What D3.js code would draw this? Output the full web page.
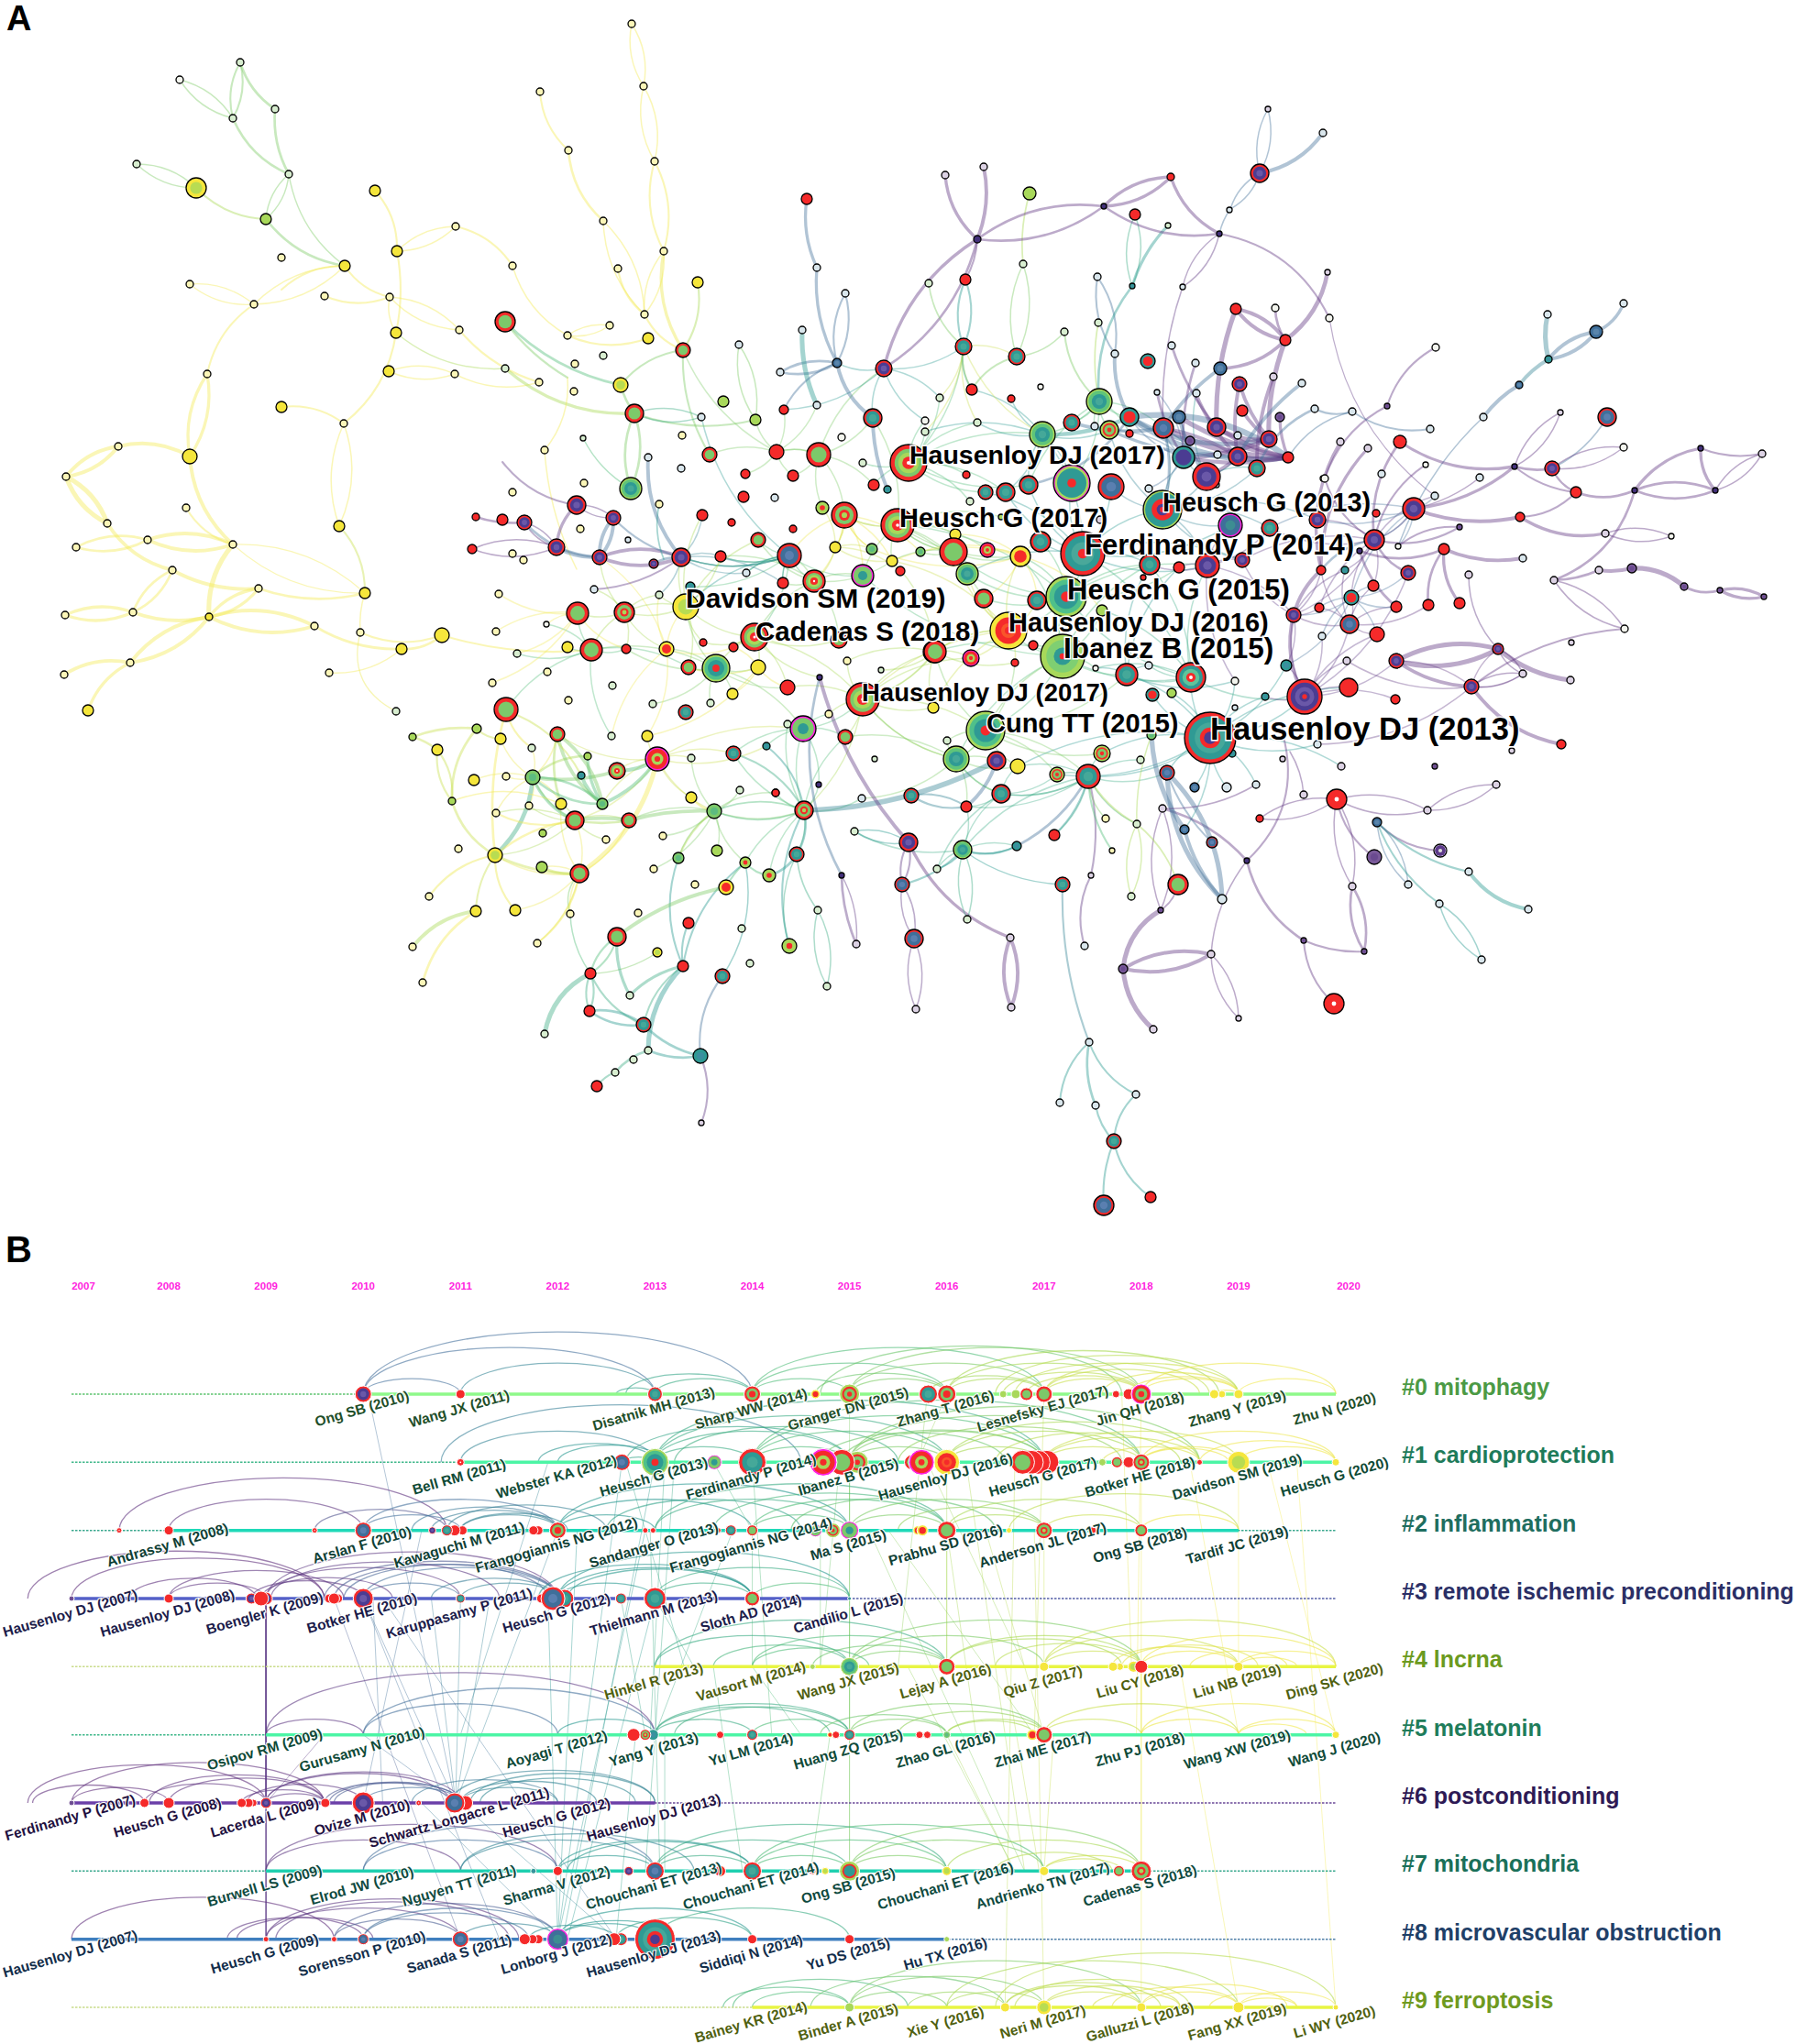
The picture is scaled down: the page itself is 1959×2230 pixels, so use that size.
<!DOCTYPE html>
<html>
<head>
<meta charset="utf-8">
<script src="https://cdnjs.cloudflare.com/ajax/libs/d3/7.8.5/d3.min.js"></script>
<style>
  html, body { margin: 0; background: #fff; }
  text { font-family: "Liberation Sans", Arial, sans-serif; font-weight: 700; }
</style>
</head>
<body>
<div id="chart"></div>
<script>
// ---- panel A: layout coordinates [x, y, citations radius, colour class]
const nodesWest = [
  [262,68,4,'pG'],[196,87,4,'pW'],[300,119,4,'pG'],[254,129,4,'pG'],[149,179,4,'pG'],[315,190,4,'pG'],[214,205,11,'Yg'],[290,239,6,'g'],
  [409,208,6,'Y'],[376,290,6,'Y'],[433,274,6,'Y'],[307,281,4,'pY'],[207,310,4,'pY'],[277,332,4,'pY'],[354,323,4,'pY'],[425,324,4,'pY'],
  [497,247,4,'pY'],[559,290,4,'pY'],[589,100,4,'pY'],[620,164,4,'pY'],[689,26,4,'pY'],[702,94,4,'pY'],[714,176,4,'pY'],[724,274,4,'pY'],
  [658,241,4,'pY'],[674,293,4,'pY'],[761,308,6,'Y'],[703,343,4,'pY'],[665,355,4,'pY'],[432,363,6,'Y'],[501,360,4,'pY'],[551,351,11,'rG'],
  [619,366,4,'pY'],[707,369,6,'Y'],[745,382,8,'rG'],[658,388,4,'pG'],[627,397,4,'pY'],[806,376,4,'pB'],[424,405,6,'Y'],[496,408,4,'pY'],
  [551,402,4,'pG'],[588,417,4,'pY'],[626,427,4,'pY'],[677,420,8,'Yg'],[692,451,10,'rG'],[307,444,6,'Y'],[375,462,4,'pY'],[226,408,4,'pY'],
  [744,475,4,'pY'],[636,478,3,'pG'],[594,491,4,'pY'],[637,527,4,'pY'],[688,533,12,'GT'],[559,537,4,'pY'],[207,498,8,'Y'],[129,487,4,'pY'],
  [72,520,4,'pY'],[117,571,4,'pY'],[203,554,4,'pY'],[161,589,4,'pY'],[83,597,4,'pY'],[254,594,4,'pY'],[370,574,6,'Y'],[188,622,4,'pY'],
  [282,642,4,'pY'],[145,668,4,'pY'],[71,671,4,'pY'],[228,673,4,'Y'],[142,723,4,'pY'],[70,736,4,'pY'],[96,775,6,'Y'],[398,647,6,'Y'],
  [393,690,4,'pY'],[482,693,8,'Y'],[438,708,6,'Y'],[343,683,4,'pY'],[359,734,4,'pY'],[537,745,4,'pY'],[597,733,4,'pY'],[432,776,4,'pG'],
  [548,567,6,'rR'],[519,564,4,'rR'],[515,599,5,'rR'],[544,648,4,'pY'],[541,689,4,'pY'],[596,681,3,'pW'],[559,604,4,'pY'],[571,611,4,'pY'],
  [564,713,4,'pG'],[619,706,6,'Y'],[620,764,4,'pY'],[520,795,5,'g'],[546,806,6,'Y'],[477,818,6,'Y'],[450,804,4,'g'],[580,816,4,'pG'],
  [517,851,6,'Y'],[493,874,4,'g'],[552,847,4,'pY'],[577,879,4,'pY'],[541,887,4,'pY'],[592,909,4,'g'],[500,926,4,'pY'],[540,933,8,'Yg'],
  [591,946,6,'g'],[468,978,4,'pY'],[519,994,6,'Y'],[562,993,6,'Y'],[622,997,4,'pY'],[586,1029,4,'pY'],[450,1033,4,'pY'],[461,1072,4,'pY']
];
const nodesCentre = [
  [629,551,10,'rP'],[572,570,8,'rP'],[669,565,8,'rP'],[633,577,4,'pY'],[766,562,6,'rR'],[798,570,4,'rR'],[865,577,4,'rR'],[827,589,8,'rG'],
  [685,589,3,'pB'],[607,597,9,'rP'],[654,608,8,'rP'],[743,608,10,'rP'],[786,607,6,'rR'],[713,615,5,'rP'],[861,606,13,'rB'],[814,625,4,'pB'],
  [854,636,6,'rR'],[888,634,12,'rGc'],[648,643,4,'pB'],[753,640,5,'T'],[719,649,4,'pG'],[748,662,14,'Yg'],[630,669,12,'rG'],[681,668,11,'rGr'],
  [823,695,15,'rGc'],[645,709,12,'rG'],[683,708,5,'rR'],[727,708,8,'Yr'],[767,701,4,'rR'],[800,706,5,'rR'],[827,728,8,'Y'],[781,729,15,'GTr'],
  [751,728,8,'rG'],[859,750,8,'rR'],[799,757,6,'Y'],[668,748,4,'pG'],[712,768,4,'pG'],[775,767,4,'pG'],[748,777,8,'rT'],[876,795,14,'mG'],
  [552,774,13,'rG'],[608,801,8,'rG'],[641,825,4,'g'],[673,841,9,'rGc'],[634,846,4,'T'],[581,848,8,'G'],[612,877,6,'Y'],[657,877,6,'G'],
  [627,895,10,'rG'],[686,895,8,'rG'],[632,953,10,'rG'],[661,916,4,'pY'],[717,828,13,'mR'],[706,803,6,'Y'],[667,803,4,'pG'],[754,827,4,'pG'],
  [754,870,6,'Y'],[779,885,8,'G'],[807,862,4,'pG'],[846,865,4,'rR'],[877,884,10,'rGr'],[800,822,8,'rT'],[836,814,4,'T'],[859,790,4,'pG'],
  [922,804,8,'rG'],[954,828,3,'pG'],[904,779,4,'pY'],[894,739,3,'D'],[924,721,4,'pY'],[961,731,3,'pG'],[941,763,18,'rGc'],[1018,772,6,'Y'],
  [1019,711,12,'rG'],[1059,718,9,'mR'],[1107,723,4,'rR'],[1127,704,5,'rR'],[1100,688,20,'YR'],[1075,797,21,'GTr'],[1033,808,4,'pG'],[1043,828,14,'GT'],
  [1087,830,10,'rP'],[1110,836,8,'Y'],[1153,845,8,'GR'],[723,912,4,'pY'],[713,948,4,'pY'],[740,936,6,'G'],[782,928,6,'g'],[813,941,6,'gr'],
  [839,955,7,'gr'],[869,932,8,'rT'],[758,965,4,'pY'],[792,968,8,'Yr'],[918,955,3,'D'],[984,965,8,'rB'],[696,996,4,'pY'],[751,1007,6,'rR'],
  [892,993,4,'pG'],[809,1013,4,'pG'],[673,1022,10,'rG'],[861,1032,8,'gr'],[934,1030,4,'pP'],[997,1024,10,'rB'],[717,1039,5,'Yg'],[745,1054,6,'rR'],
  [818,1051,4,'pG'],[644,1062,6,'rR'],[788,1065,8,'rT'],[687,1086,4,'pG'],[902,1076,4,'pG'],[999,1101,4,'pP'],[643,1103,6,'rR'],[702,1118,8,'rT'],
  [594,1128,4,'pG'],[707,1146,4,'pG'],[764,1152,8,'T'],[691,1156,4,'pG'],[671,1170,4,'pG'],[651,1185,6,'rR'],[765,1225,3,'pP'],[846,865,4,'rR'],
  [940,871,4,'pB'],[994,868,8,'rT'],[1054,880,6,'rR'],[1092,866,10,'rT'],[893,856,3,'D'],[932,907,4,'pG'],[991,919,10,'rP'],[1050,927,10,'GT'],
  [1109,923,5,'T'],[1022,948,4,'pG'],[1055,1003,4,'pG'],[1202,822,9,'GR'],[1187,847,13,'rT'],[1256,802,5,'G'],[1244,829,4,'pG'],[1273,843,8,'rB'],
  [1320,805,28,'H13'],[1344,822,4,'T'],[1206,893,4,'pY'],[1240,899,4,'pG'],[1150,911,6,'rR'],[1213,928,3,'pY'],[1190,955,3,'pP'],[1159,965,8,'rT'],
  [1285,965,11,'rG'],[1234,978,4,'pG'],[1183,1032,4,'pB'],[1102,1023,4,'pP'],[1103,1099,4,'pP'],[1268,882,4,'pP'],[1266,993,3,'P'],[1292,905,5,'B'],
  [1322,919,6,'rB'],[1333,981,5,'pB'],[1225,1057,5,'P'],[1321,1041,4,'pP'],[1258,1123,4,'pP'],[1351,1111,3,'pP'],[1188,1137,4,'pB'],[1156,1203,4,'pB'],
  [1195,1206,4,'pB'],[1239,1194,4,'pB'],[1215,1245,8,'rT'],[1255,1306,6,'rR'],[1204,1315,11,'rB']
];
const nodesNorth = [
  [880,217,6,'rR'],[891,292,4,'pB'],[922,320,4,'pB'],[875,360,4,'pB'],[851,406,4,'pB'],[913,396,5,'B'],[964,402,9,'rP'],[855,447,5,'rR'],
  [891,442,4,'pB'],[789,438,6,'g'],[824,458,6,'g'],[765,455,4,'pB'],[847,493,8,'rR'],[893,496,13,'rG'],[774,496,8,'rG'],[707,499,4,'pB'],
  [813,517,5,'rR'],[865,519,6,'rR'],[743,511,4,'pB'],[811,542,6,'rR'],[845,543,4,'pB'],[897,554,7,'gr'],[719,550,4,'pY'],[1073,182,4,'pP'],
  [1031,191,4,'pP'],[1123,211,7,'g'],[1277,193,4,'rR'],[1374,189,10,'rP'],[1204,225,3,'D'],[1238,234,6,'rR'],[1341,229,3,'pB'],[1274,246,3,'pG'],
  [1066,261,4,'D'],[1330,255,3,'D'],[1116,288,4,'pG'],[1013,309,4,'pG'],[1053,305,6,'rR'],[1197,302,4,'pB'],[1235,312,3,'T'],[1290,313,3,'pB'],
  [1448,297,3,'pP'],[1383,119,3,'pP'],[1443,145,4,'pB'],[1348,337,6,'rR'],[1391,336,4,'pW'],[1198,352,4,'pG'],[1161,362,4,'pG'],[1450,347,4,'pW'],
  [1402,371,6,'rR'],[1278,377,4,'pB'],[1051,378,9,'rT'],[1109,389,9,'rT'],[1216,386,4,'pB'],[1252,394,8,'Tr'],[1304,396,4,'pB'],[1331,402,7,'B'],
  [1389,411,4,'pP'],[1352,419,8,'rP'],[1420,418,4,'pB'],[1060,425,6,'rR'],[1103,435,4,'rR'],[1135,422,3,'pW'],[1262,428,3,'pB'],[1305,429,4,'pB'],
  [1025,434,4,'pG'],[1199,438,14,'GT'],[952,456,10,'rT'],[1434,446,4,'pB'],[1232,455,10,'Tr'],[1286,455,7,'B'],[1355,448,6,'rR'],[1396,455,5,'P'],
  [1009,459,4,'pW'],[1066,461,4,'pG'],[1169,461,9,'rT'],[1009,471,4,'pG'],[1194,465,4,'pB'],[1210,469,10,'GR'],[1232,473,4,'rR'],[1269,467,11,'rB'],
  [1327,466,10,'rP'],[1137,474,14,'GT'],[1298,481,5,'P'],[1350,475,4,'pB'],[1384,479,9,'rP'],[918,477,4,'pW'],[941,505,4,'pG'],[991,505,20,'rGc'],
  [1328,496,4,'pB'],[1350,498,10,'rP'],[1405,499,6,'rR'],[1291,499,12,'TP'],[1054,518,4,'rR'],[1371,511,9,'rT'],[1316,520,15,'rP'],[1443,522,3,'pW'],
  [953,529,6,'rR'],[968,534,4,'T'],[1075,537,8,'rT'],[1097,537,10,'rT'],[1122,529,10,'rT'],[1169,527,20,'mT'],[1212,531,14,'rB'],[1253,533,4,'pB'],
  [1327,529,3,'pB'],[1268,556,21,'GH'],[921,562,14,'rGr'],[1058,547,4,'pG'],[979,573,18,'rGc'],[1092,564,3,'g'],[1200,567,4,'pP'],[1342,573,13,'mB'],
  [1385,576,9,'rT'],[1437,567,9,'rP'],[911,597,6,'Y'],[951,599,6,'G'],[1042,583,6,'Y'],[1040,602,15,'rG'],[1004,602,5,'G'],[973,612,6,'Y'],
  [982,623,5,'rR'],[1055,626,12,'GT'],[1077,600,8,'mR'],[1113,607,11,'Yr'],[1135,591,11,'rT'],[1181,604,24,'F14'],[941,628,12,'mG'],[1073,653,10,'rG'],
  [1131,655,10,'rT'],[1163,651,22,'GTr'],[1202,666,6,'g'],[1159,716,24,'I15'],[915,698,9,'rG'],[1020,711,12,'rG']
];
const nodesEast = [
  [1229,736,12,'rT'],[1253,726,4,'pB'],[1195,729,3,'pW'],[1299,739,16,'rT2'],[1347,743,4,'pW'],[1403,726,6,'T'],[1423,760,19,'rP2'],[1471,750,10,'rR'],
  [1522,763,5,'rR'],[1523,721,8,'rP'],[1605,749,8,'rP'],[1634,708,6,'rP'],[1661,735,4,'pP'],[1469,721,4,'pP'],[1502,692,8,'rR'],[1472,681,10,'rB'],
  [1411,671,8,'rP'],[1439,663,5,'rR'],[1474,652,8,'Tr'],[1523,662,6,'rR'],[1558,660,6,'rR'],[1592,658,6,'rR'],[1442,694,4,'pB'],[1602,627,4,'pP'],
  [1661,609,4,'pB'],[1695,633,4,'pP'],[1525,596,3,'pW'],[1592,575,3,'P'],[1565,541,4,'pB'],[1614,521,4,'pB'],[1555,507,3,'pW'],[1507,517,4,'pB'],
  [1445,522,4,'pW'],[1513,443,3,'P'],[1475,449,4,'pB'],[1560,468,4,'pB'],[1618,455,4,'pB'],[1657,420,4,'B'],[1527,482,7,'rR'],[1492,489,4,'pP'],
  [1462,482,4,'pP'],[1652,509,3,'D'],[1693,511,8,'rP'],[1566,379,4,'pW'],[1688,343,4,'pB'],[1771,331,4,'pB'],[1741,362,7,'B'],[1689,392,4,'T'],
  [1702,450,3,'pP'],[1753,455,10,'rB'],[1771,488,4,'pW'],[1719,537,6,'rR'],[1783,535,3,'D'],[1855,489,3,'D'],[1871,535,3,'D'],[1922,495,4,'pP'],
  [1501,560,4,'rR'],[1542,555,12,'rP'],[1658,564,5,'rR'],[1751,582,4,'pP'],[1823,585,3,'pW'],[1499,589,11,'rP'],[1575,599,6,'rR'],[1483,601,3,'D'],
  [1441,622,5,'rR'],[1467,622,4,'T'],[1536,625,8,'rP'],[1744,622,4,'pP'],[1780,620,5,'P'],[1837,640,4,'P'],[1876,644,3,'P'],[1924,651,3,'P'],
  [1498,639,6,'rR'],[1772,686,4,'pW'],[1714,701,3,'pP'],[1713,742,4,'pP'],[1254,616,11,'rT'],[1286,619,6,'rR'],[1317,617,13,'rP'],[1355,611,8,'rP'],
  [1247,630,3,'rR'],[1437,812,4,'pB'],[1463,836,4,'pP'],[1565,836,3,'P'],[1649,819,3,'pP'],[1703,812,5,'rR'],[1399,828,3,'pP'],[1303,859,5,'B'],
  [1338,859,5,'pB'],[1370,856,4,'pB'],[1422,867,4,'pP'],[1458,872,11,'rRw'],[1632,856,4,'pP'],[1557,884,4,'pP'],[1374,893,4,'rR'],[1502,897,5,'B'],
  [1360,939,3,'D'],[1499,935,8,'P'],[1571,928,7,'Pr'],[1602,951,4,'pB'],[1475,967,4,'pP'],[1536,965,4,'pB'],[1570,986,4,'pB'],[1667,992,4,'pB'],
  [1422,1026,3,'P'],[1488,1038,3,'P'],[1616,1047,4,'pB'],[1455,1095,11,'rRw'],[1380,760,4,'T'],[1347,772,3,'pB'],[1278,756,5,'g'],[1257,758,7,'Tr']
];

// colour class of a link = year of co-citation; [year, width, bend, x,y, x,y, ...]. bend 0 = paired arcs
const linkChains = [
  [2015,2,.18,262,68,300,119],[2015,2,.15,300,119,315,190],[2015,1.5,0,262,68,254,129],[2015,1,0,196,87,254,129],[2015,2,.2,254,129,315,190],
  [2015,1,0,149,179,214,205],[2016,1.5,.2,214,205,290,239],[2015,1,0,315,190,290,239],[2015,1,.2,315,190,376,290],[2015,2,.2,290,239,376,290],
  [2019,1.5,.2,376,290,307,316],[2019,1,0,376,290,277,332],[2019,.8,0,207,310,277,332],[2019,1.5,.2,277,332,226,408],[2019,2.5,0,226,408,207,498],
  [2019,3,.2,207,498,129,487],[2019,3,0,129,487,72,520],[2019,4,0,72,520,117,571],[2019,3,.2,117,571,188,622],[2019,3,.2,207,498,254,594],
  [2019,4,.2,254,594,228,673],[2019,1.5,.2,203,554,254,594],[2019,3,0,161,589,254,594],[2019,2,0,83,597,161,589],[2019,3,.15,188,622,282,642],
  [2019,2,0,188,622,145,668],[2019,2.5,0,145,668,71,671],[2019,3,.15,145,668,228,673],[2019,2.5,0,228,673,282,642],[2019,3,0,228,673,343,683],
  [2019,3,0,228,673,142,723],[2019,3,.2,142,723,70,736],[2019,2.5,.2,142,723,96,775],[2019,.8,0,254,594,398,647],[2019,2,.15,282,642,398,647],
  [2017,1.5,.2,398,647,370,574],[2019,1,0,370,574,375,462],[2019,1.5,.2,375,462,307,444],[2019,1.5,.2,375,462,432,363],[2019,1.5,.1,432,363,433,274],
  [2019,1.5,.2,433,274,409,208],[2019,1,0,433,274,497,247],[2019,1.5,-.2,497,247,559,290],[2019,1,.2,559,290,619,366],[2016,1,.2,432,363,551,402],
  [2019,1,.2,425,324,432,363],[2019,1.5,.2,376,290,425,324],[2019,1.5,.2,354,323,425,324],[2019,1,0,425,324,501,360],[2019,1.5,.15,501,360,588,417],
  [2019,1,0,424,405,496,408],[2019,1,.2,496,408,588,417],[2016,2.5,.2,551,402,692,451],[2014,2,.15,551,351,677,420],[2015,1.5,.1,551,351,619,412],
  [2019,1.5,.2,589,100,620,164],[2019,2,.2,620,164,658,241],[2019,1,0,658,241,703,343],[2019,1.5,.2,674,293,703,343],[2019,1,0,689,26,702,94],
  [2019,1,0,702,94,714,176],[2019,1.5,0,714,176,724,274],[2019,1,0,724,274,703,343],[2018,2.5,.2,724,274,745,382],[2016,1.5,-.2,761,308,745,382],
  [2019,1.5,.2,703,343,745,382],[2019,1,0,665,355,619,366],[2019,1.5,.2,619,366,707,369],[2015,1.5,.2,745,382,677,420],[2015,1.5,.15,745,382,774,496],
  [2015,1.5,.15,692,451,824,458],[2013,1,0,692,451,765,455],[2015,2,.1,677,420,692,451],[2015,1,0,806,376,824,458],[2015,2,0,692,451,688,533],
  [2019,1,.2,594,491,619,412],[2019,1,.1,594,491,629,621],[2014,1,.15,636,478,688,533],[2019,1,.1,398,647,393,690],[2019,1.5,.2,393,690,482,693],
  [2019,2,.15,343,683,438,708],[2019,2,.2,438,708,482,693],[2019,1.5,.1,482,693,645,709],[2019,1,.2,359,734,438,708],[2018,.8,.4,393,690,432,776],
  [2008,2,.1,519,564,572,570],[2009,1.5,.2,548,504,629,551],[2009,2.5,.2,629,551,607,597],[2009,1,0,572,570,607,597],[2008,1,0,515,599,607,597],
  [2009,1,0,629,551,669,565],[2010,3,0,669,565,654,608],[2010,3,.15,607,597,654,608],[2009,3,0,654,608,743,608],[2010,2,.2,572,570,654,608],
  [2010,1.5,.15,669,565,743,608],[2010,3,.2,707,499,743,608],[2010,2,.15,743,608,713,615],[2012,1.2,.15,719,550,724,610],[2009,1.5,.15,648,643,743,608],
  [2010,2.5,.15,880,217,891,292],[2010,2.5,.15,891,292,913,396],[2010,1.5,0,922,320,913,396],[2010,2,0,851,406,913,396],[2012,4,.12,875,360,891,442],
  [2010,1.5,.2,913,396,855,447],[2010,3,.2,913,396,952,456],[2010,3,.1,952,456,968,534],[2008,2,.2,964,402,1066,261],[2008,2.5,-.2,964,402,1066,261],
  [2008,2.5,.2,1031,191,1066,261],[2008,3,-.15,1073,182,1066,261],[2008,1.5,.12,1053,305,1066,261],[2015,1.2,.2,1013,309,1051,378],[2012,1.5,0,1053,305,1051,378],
  [2013,1.5,.2,1051,378,1060,425],[2015,1,0,1116,288,1109,389],[2016,1.2,.1,1123,211,1116,288],[2015,1.5,.2,1109,389,1060,425],[2015,1,.2,1109,389,1161,362],
  [2015,1.5,.2,1161,362,1199,438],[2016,1.2,.1,1198,352,1199,438],[2010,1.5,0,1197,302,1216,386],[2010,3,.15,1216,386,1232,455],[2013,1,0,1238,234,1235,312],
  [2012,2.5,.12,1274,246,1235,312],[2012,2,.2,1235,312,1199,438],[2008,2,0,1066,261,1204,225],[2008,2.5,0,1204,225,1277,193],[2008,2.5,.2,1277,193,1330,255],
  [2008,2,.2,1204,225,1330,255],[2010,1,0,1374,189,1383,119],[2010,3,.2,1374,189,1443,145],[2010,1,0,1374,189,1342,228],[2010,1,.1,1342,228,1330,255],
  [2009,1,0,1330,255,1290,313],[2009,1,.1,1290,313,1269,467],[2008,1.5,-.25,1330,255,1450,347],[2009,.8,.2,1450,347,1565,541],
  [2008,3,0,1348,337,1402,371],[2008,2,.15,1391,336,1402,371],[2008,3,.2,1331,402,1402,371],[2008,3.5,.2,1402,371,1448,297],[2008,4,.1,1402,371,1384,479],
  [2008,4,.1,1348,337,1327,466],[2010,3,.1,1331,402,1269,467],[2009,5,.12,1269,467,1405,499],[2010,5,0,1232,455,1405,499],[2010,4,.2,1232,455,1384,479],
  [2009,4,.1,1286,455,1405,499],[2008,4,.1,1327,466,1405,499],[2008,4,.2,1327,466,1384,479],[2008,4,.1,1350,498,1405,499],[2009,3,.1,1350,498,1269,467],
  [2008,4,.1,1291,499,1384,479],[2009,3,.1,1291,499,1405,499],[2008,3,.1,1352,419,1350,498],[2008,3,.1,1355,448,1384,479],[2008,2.5,.1,1396,455,1405,499],
  [2008,3,.1,1389,411,1371,511],[2008,3,.1,1304,429,1350,498],[2010,3,.1,1420,418,1350,498],[2010,2.5,.12,1210,469,1350,498],[2010,3,.12,1169,461,1269,467],
  [2012,3.5,.12,1137,474,1232,455],[2010,2,.2,1122,529,1232,455],[2009,2,.1,1278,377,1327,466],[2009,2,.1,1304,396,1291,499],[2009,2,.1,1262,428,1291,499],
  [2010,2,.2,1434,446,1371,511],[2010,2,.15,1268,556,1269,467],[2010,3,.1,1286,455,1316,520],[2009,3,.1,1352,419,1384,479],[2009,3,.1,1316,520,1350,498],
  [2008,1.5,.2,1566,379,1513,443],[2008,1.5,.2,1513,443,1445,522],[2010,1.5,.2,1475,449,1560,468],[2010,1.5,.2,1434,446,1475,449],[2010,1,.2,1475,449,1405,499],
  [2010,1,.12,1618,455,1525,596],[2010,3,.1,1657,420,1618,455],[2011,3,.1,1689,392,1657,420],[2011,4,.12,1688,343,1689,392],[2010,3,0,1689,392,1741,362],
  [2010,2.5,.2,1741,362,1771,331],[2008,2.5,.2,1527,482,1652,509],[2008,2,.12,1652,509,1693,511],[2008,1,0,1652,509,1702,450],[2010,1,.15,1693,511,1753,455],
  [2008,1,0,1693,511,1771,488],[2008,1.5,.2,1693,511,1719,537],[2008,1.5,.15,1652,509,1719,537],[2008,2.5,.15,1542,555,1652,509],[2008,3,.15,1542,555,1658,564],
  [2008,1.5,.2,1658,564,1719,537],[2008,2.5,.2,1658,564,1751,582],[2008,1,0,1751,582,1823,585],[2008,1,.12,1542,555,1614,521],[2008,2,.2,1719,537,1783,535],
  [2008,2.5,-.2,1783,535,1855,489],[2008,2.5,.2,1855,489,1871,535],[2008,1.5,.15,1855,489,1922,495],[2008,1,0,1871,535,1922,495],[2008,2,0,1783,535,1871,535],
  [2008,2,-.25,1783,535,1695,633],[2008,2,.1,1695,633,1744,622],[2008,3,.1,1744,622,1780,620],[2008,4,-.2,1780,620,1837,640],[2008,2,.2,1837,640,1876,644],
  [2008,2.5,0,1876,644,1924,651],[2008,1,0,1695,633,1772,686],[2008,1.5,.15,1772,686,1605,749],[2008,4,.15,1634,708,1713,742],[2008,4,0,1523,721,1634,708],
  [2008,1,0,1634,708,1661,735],[2008,1,0,1605,749,1661,735],[2008,3,-.15,1605,749,1523,721],[2008,3,.2,1605,749,1703,812],[2009,1,.2,1602,627,1634,708],
  [2008,3,.15,1575,599,1661,609],[2008,2,.2,1575,599,1558,660],[2008,2.5,.2,1575,599,1592,658],[2008,2,.2,1483,601,1575,599],[2009,2,.15,1483,601,1523,662],
  [2009,1.5,.2,1499,589,1592,575],[2010,2,.2,1499,589,1441,622],[2009,3,.15,1441,622,1411,671],[2008,3,.2,1411,671,1423,760],[2009,2,.2,1499,589,1536,625],
  [2008,1.5,.2,1592,575,1525,596],[2008,1.5,.2,1445,522,1499,589],[2008,2.5,.2,1462,482,1441,622],[2008,2.5,.2,1492,489,1441,622],[2008,2,.2,1527,482,1499,589],
  [2008,1.5,.2,1555,507,1499,589],[2008,2,.15,1360,939,1268,882],[2008,1.5,.3,1360,939,1399,800],[2008,1,.15,1360,939,1321,1041],[2008,2,.2,1360,939,1422,1026],
  [2008,1.5,.2,1422,1026,1455,1095],[2008,1.5,.12,1422,1026,1488,1038],[2008,2,0,1488,1038,1475,967],[2008,1,0,1475,967,1458,872],[2008,1.5,.2,1458,872,1499,935],
  [2008,1,.12,1422,867,1407,820],[2008,1,0,1458,872,1557,884],[2008,1,0,1374,893,1458,872],[2008,1,0,1557,884,1632,856],[2008,1.5,.2,1502,897,1571,928],
  [2010,1,0,1502,897,1536,965],[2012,1.5,.15,1502,897,1570,986],[2012,1.5,.15,1502,897,1602,951],[2012,3,.2,1602,951,1667,992],[2012,1,0,1570,986,1616,1047],
  [2008,3,0,1225,1057,1321,1041],[2008,4,.2,1225,1057,1258,1123],[2008,4,-.25,1225,1057,1266,993],[2008,1,0,1266,993,1268,882],[2008,1.2,.2,1266,993,1285,965],
  [2016,1.2,.15,1285,965,1240,899],[2016,1,0,1240,899,1234,978],[2008,1,0,1321,1041,1351,1111],[2008,3,0,1102,1023,1103,1099],[2007,2.5,.2,991,919,1102,1023],
  [2011,1.5,.1,1159,965,1188,1137],[2009,1.5,.2,1190,955,1183,1032],[2009,1.5,.12,1190,955,1187,847],[2012,1.5,.2,1188,1137,1156,1203],[2012,2,.15,1188,1137,1195,1206],
  [2012,1.5,.2,1188,1137,1239,1194],[2012,1.5,.15,1195,1206,1215,1245],[2012,1.5,.2,1239,1194,1215,1245],[2012,1.5,.12,1215,1245,1204,1315],[2012,1.5,.2,1215,1245,1255,1306],
  [2012,1.5,.2,1051,928,1109,923],[2012,1.2,.15,1022,948,1051,928],[2012,1,.15,1051,928,1159,965],[2013,1,0,1051,928,1055,1003],[2010,2,.15,1109,923,1187,847],
  [2012,1.5,.15,1150,911,1187,847],[2015,1,.2,1187,847,1206,893],[2014,1.5,.15,1187,847,1213,928],[2010,1.5,.12,1273,843,1322,919],[2010,4,0,1273,843,1333,981],
  [2010,4,.15,1256,802,1292,905],[2010,3,.12,1292,905,1333,981],[2016,1.5,.15,1187,847,1240,899],[2016,1,.1,1256,802,1240,899],[2008,1,.15,1268,882,1370,856],
  [2011,4.5,.12,877,884,1087,830],[2010,3,.15,1054,880,1087,830],[2011,1.5,0,994,868,1054,880],[2012,1,0,932,907,991,919],[2009,1.5,0,984,965,991,919],
  [2009,1,0,984,965,997,1024],[2009,1,0,997,1024,999,1101],[2012,1.5,.15,984,965,1050,927],[2012,1.2,.2,1050,927,1109,923],[2009,2,.1,918,955,934,1030],[2009,1,-.15,918,955,934,1030],
  [2009,3,.12,894,739,991,919],[2010,2,.2,894,739,918,955],[2012,1.5,.2,877,884,836,814],[2013,1.5,.2,877,884,800,822],[2014,1.2,0,877,884,779,885],
  [2015,3,.08,779,885,686,895],[2015,3,.08,686,895,627,895],[2018,1.5,.2,754,870,779,885],[2016,1.5,.15,779,885,740,936],[2012,1.5,.2,740,936,745,1054],
  [2012,1.5,.2,813,941,745,1054],[2014,1.5,.2,813,941,839,955],[2012,2,.2,839,955,869,932],[2012,2,.2,869,932,877,884],[2013,1,.2,869,932,861,1032],
  [2014,1.5,.1,813,941,792,968],[2015,3,.12,792,968,673,1022],[2012,1.5,.15,751,1007,745,1054],[2012,4,.2,745,1054,707,1146],[2013,2.5,.15,745,1054,687,1086],
  [2013,1.5,.2,745,1054,702,1118],[2013,2,.15,707,1146,671,1170],[2013,1.5,.15,671,1170,651,1185],[2013,4,.25,644,1062,594,1128],[2013,1.5,.2,644,1062,702,1118],
  [2015,1,.15,644,1062,717,1039],[2012,2,0,643,1103,702,1118],[2013,1.5,0,643,1103,644,1062],[2014,1.5,0,673,1022,644,1062],[2013,2.5,.15,673,1022,687,1086],
  [2012,2,.15,702,1118,764,1152],[2012,2,.15,707,1146,764,1152],[2009,1.5,-.2,764,1152,765,1225],[2010,1.5,.2,788,1065,764,1152],[2012,1,.2,788,1065,813,941],
  [2013,1,0,892,993,902,1076],[2013,1.2,.15,869,932,892,993],[2012,1.5,.2,877,884,861,1032],
  [2013,3.5,.2,540,933,581,848],[2015,3,.12,581,848,673,841],[2014,2.5,.2,581,848,627,895],[2016,2,.15,608,801,612,877],[2014,3,.15,673,841,717,828],
  [2014,3,.15,657,877,717,828],[2016,2,.2,641,825,581,848],[2014,3,.15,634,846,657,877],[2014,2.5,.15,641,825,657,877],[2017,2,.2,520,795,493,874],[2017,2,.1,477,818,450,804],
  [2017,1.5,.2,520,795,546,806],[2017,2,.12,520,795,450,804],[2017,1.5,0,477,818,493,874],[2017,2,.2,493,874,540,933],[2019,2,.1,552,774,540,933],[2018,1.5,.2,552,774,580,816],
  [2017,2,.12,540,933,632,953],[2017,2,.15,591,946,632,953],[2017,1.5,.15,540,933,519,994],[2018,1.5,.2,540,933,562,993],[2016,3,.2,519,994,450,1033],[2019,2,.2,519,994,461,1072],
  [2018,1.5,.2,540,933,468,978],[2019,2,.15,627,895,540,933],[2019,4,.2,632,953,717,828],[2016,2,.1,627,895,686,895],[2015,1,.3,632,953,622,997],[2018,1.5,.2,586,1029,632,953],
  [2019,1.5,.2,541,887,627,895],[2019,1,.2,612,877,493,874],[2014,1,.15,622,997,644,1062],[2015,3,0,608,801,657,877],[2014,2,0,581,848,657,877],[2017,1.5,-.2,551,775,634,846]
];

// thin spokes around the most cited papers: [year, hub x, hub y, x,y, x,y, ...]
const hubLinks = [
  [2012,1320,805,1257,758,1278,756,1380,760,1423,760,1471,750,1403,726,1299,739,1229,736,1187,847,1273,843,1303,859,1338,859,1370,856,1202,822,1344,822,1437,812,1463,836,1347,743,1292,905,1110,836,1153,845],
  [2013,1299,739,1229,736,1254,616,1163,651,1181,604,1159,716,1202,666,1317,617,1423,760,1253,726,1195,729],
  [2014,1159,716,1100,688,1020,711,1075,797,1043,828,1163,651,1229,736,1254,616,1113,607,941,628,1202,666,1195,729,1127,704],
  [2014,1163,651,1073,653,1131,655,1055,626,1135,591,1040,602,1181,604,1254,616,1286,619,1317,617,1113,607,1100,688,979,573],
  [2012,1181,604,1097,537,1075,537,1122,529,1137,474,1169,527,1212,531,1268,556,1342,573,1135,591,1055,626,1254,616,1317,617,1355,611],
  [2011,1268,556,1212,531,1316,520,1291,499,1269,467,1385,576,1342,573,1437,567,1355,611,1317,617,1371,511,1210,469,1253,533],
  [2014,991,505,1054,518,1075,537,1097,537,1122,529,1137,474,1051,378,1066,461,1025,434,941,505,953,529,1009,459,1009,471,1058,547],
  [2015,979,573,1042,583,1040,602,1077,600,1113,607,1055,626,973,612,921,562,952,456,1073,653,941,628,1092,564],
  [2017,1100,688,1073,653,1020,711,1059,718,941,763,1040,602,973,612,1113,607,1131,655,1107,723,1018,772,1055,626],
  [2016,941,763,1020,711,1019,711,1075,797,1018,772,922,804,904,779,1059,718,1043,828,877,884,859,750,924,721],
  [2015,1075,797,1043,828,1110,836,1153,845,1202,822,1187,847,1229,736,1159,716,1107,723,1020,711,1033,808],
  [2018,921,562,911,597,951,599,941,628,861,606,888,634,979,573,973,612,951,599,1004,602],
  [2015,888,634,854,636,861,606,941,628,973,612,915,698,823,695,827,589,786,607],
  [2014,861,606,786,607,814,625,827,589,854,636,823,695,888,634,753,640,941,628,743,608],
  [2016,823,695,748,662,781,729,859,750,800,706,827,728,915,698,941,763,894,739,767,701],
  [2015,781,729,748,662,727,708,683,708,645,709,751,728,827,728,799,757,859,750,712,768,775,767,876,795],
  [2016,681,668,630,669,645,709,719,649,748,662,683,708,727,708,654,608,648,643],
  [2014,645,709,630,669,683,708,564,713,596,681,751,728,552,774,619,706,667,803],
  [2014,876,795,859,790,800,822,922,804,836,814,904,779,941,763,893,856,877,884],
  [2013,1187,847,1092,866,1153,845,1202,822,1273,843,1244,829,1110,836,1054,880,1050,927,1150,911,1240,899],
  [2014,1199,438,1169,461,1210,469,1137,474,1232,455,1269,467,1122,529,1169,527,1194,465,1232,473],
  [2012,1137,474,1066,461,1122,529,1097,537,1060,425,1103,435,1210,469,1169,527,1009,471],
  [2009,1423,760,1471,750,1403,726,1380,760,1442,694,1469,721,1523,721,1502,692,1472,681,1522,763,1536,625,1411,671],
  [2008,1472,681,1523,662,1558,660,1411,671,1439,663,1498,639,1502,692,1467,622,1474,652,1441,622],
  [2009,1499,589,1411,671,1439,663,1467,622,1474,652,1498,639,1437,567,1385,576,1542,555,1565,541,1355,611],
  [2010,1474,652,1411,671,1439,663,1403,726,1442,694,1502,692,1523,662,1498,639,1536,625],
  [2009,1317,617,1254,616,1286,619,1355,611,1385,576,1411,671,1347,743,1342,573],
  [2012,1229,736,1253,726,1195,729,1254,616,1347,743,1286,619],
  [2013,1092,866,1054,880,1153,845,1110,836,1187,847,1043,828,1022,948],
  [2019,727,708,748,662,800,706,719,649,667,803,706,803,654,608],
  [2019,630,669,544,648,683,708,564,713,596,681,537,745,541,689],
  [2018,827,728,799,757,859,750,751,728,800,706,706,803],
  [2012,861,606,765,455,854,636,786,607,814,625,743,608,748,662],
  [2011,743,608,786,607,766,562,719,649,814,625,854,636,861,606],
  [2017,717,828,754,827,754,870,706,803,673,841,800,822,836,814,876,795,779,885,627,895,657,877,608,801],
  [2018,632,953,562,993,591,946,540,933,622,997,586,1029,627,895,612,877,686,895],
  [2016,627,895,577,879,612,877,581,848,592,909,686,895,661,916,540,933,541,887],
  [2018,581,848,552,847,517,851,546,806,580,816,577,879,541,887,612,877,608,801],
  [2015,779,885,754,827,807,862,846,865,686,895,723,912,813,941,782,928,740,936,713,948,877,884],
  [2014,877,884,846,865,893,856,800,822,813,941,869,932,839,955,859,790,940,871,922,804],
  [2015,1043,828,1033,808,1075,797,1087,830,1110,836,1054,880,1092,866,940,871,922,804,941,763],
  [2016,1020,711,1059,718,924,721,961,731,1018,772,941,763,1107,723,1100,688,973,612],
  [2018,1113,607,1135,591,1042,583,1073,653,1077,600,1131,655,973,612,1202,666,1004,602,951,599],
  [2017,911,597,951,599,973,612,982,623,921,562,888,634,897,554],
  [2016,748,662,719,649,753,640,766,562,786,607,743,608,681,668,751,728,767,701,827,589],
  [2015,847,493,893,496,855,447,813,517,865,519,824,458,774,496,745,382,891,442],
  [2015,893,496,921,562,847,493,865,519,952,456,964,402,897,554,953,529],
  [2012,964,402,913,396,952,456,855,447,1051,378,1025,434,1009,459],
  [2017,1051,378,1109,389,1060,425,1025,434,1066,461,1009,471,1137,474],
  [2015,1040,602,1004,602,1042,583,979,573,973,612,1055,626,1113,607],
  [2012,1316,520,1371,511,1350,498,1291,499,1269,467,1305,429,1327,529],
  [2010,1291,499,1232,455,1210,469,1269,467,1286,455,1328,496,1262,428,1253,533],
  [2009,1411,671,1355,611,1441,622,1467,622,1439,663,1403,726],
  [2010,1542,555,1499,589,1565,541,1501,560,1385,576,1437,567,1474,652,1525,596],
  [2008,1605,749,1634,708,1523,721,1469,721,1661,735,1437,812],
  [2013,1050,927,1109,923,1054,880,1092,866,1022,948,932,907]
];

const panelALabels = ['Hausenloy DJ (2013)','Hausenloy DJ (2017)','Heusch G (2017)','Heusch G (2013)','Ferdinandy P (2014)','Heusch G (2015)','Hausenloy DJ (2016)','Ibanez B (2015)','Hausenloy DJ (2017)','Cung TT (2015)','Davidson SM (2019)','Cadenas S (2018)'];
const panelAAnchor = [[1320,795,34.5],[992,496,28.5],[981,565,29],[1268,548,29],[1183,594,31],[1164,643,31],[1100,679,29],[1160,707,31.5],[940,755,27.5],[1076,789,29],[748,652,30],[824,688,29.5]];

// ---- panel B
const years = d3.range(2007, 2021);
const clusterNames = ['#0 mitophagy','#1 cardioprotection','#2 inflammation','#3 remote ischemic preconditioning','#4 lncrna','#5 melatonin','#6 postconditioning','#7 mitochondria','#8 microvascular obstruction','#9 ferroptosis'];
const clusterSpan = [[2010,2020],[2011,2020],[2008,2019],[2007,2015],[2013,2020],[2009,2020],[2007,2013],[2009,2018],[2007,2016],[2014,2020]];
const rowLabels = [
  [['Ong SB',2010],['Wang JX',2011],['Disatnik MH',2013],['Sharp WW',2014],['Granger DN',2015],['Zhang T',2016],['Lesnefsky EJ',2017],['Jin QH',2018],['Zhang Y',2019],['Zhu N',2020]],
  [['Bell RM',2011],['Webster KA',2012],['Heusch G',2013],['Ferdinandy P',2014],['Ibanez B',2015],['Hausenloy DJ',2016],['Heusch G',2017],['Botker HE',2018],['Davidson SM',2019],['Heusch G',2020]],
  [['Andrassy M',2008],['Arslan F',2010],['Kawaguchi M',2011],['Frangogiannis NG',2012],['Sandanger O',2013],['Frangogiannis NG',2014],['Ma S',2015],['Prabhu SD',2016],['Anderson JL',2017],['Ong SB',2018],['Tardif JC',2019]],
  [['Hausenloy DJ',2007],['Hausenloy DJ',2008],['Boengler K',2009],['Botker HE',2010],['Karuppasamy P',2011],['Heusch G',2012],['Thielmann M',2013],['Sloth AD',2014],['Candilio L',2015]],
  [['Hinkel R',2013],['Vausort M',2014],['Wang JX',2015],['Lejay A',2016],['Qiu Z',2017],['Liu CY',2018],['Liu NB',2019],['Ding SK',2020]],
  [['Osipov RM',2009],['Gurusamy N',2010],['Aoyagi T',2012],['Yang Y',2013],['Yu LM',2014],['Huang ZQ',2015],['Zhao GL',2016],['Zhai ME',2017],['Zhu PJ',2018],['Wang XW',2019],['Wang J',2020]],
  [['Ferdinandy P',2007],['Heusch G',2008],['Lacerda L',2009],['Ovize M',2010],['Schwartz Longacre L',2011],['Heusch G',2012],['Hausenloy DJ',2013]],
  [['Burwell LS',2009],['Elrod JW',2010],['Nguyen TT',2011],['Sharma V',2012],['Chouchani ET',2013],['Chouchani ET',2014],['Ong SB',2015],['Chouchani ET',2016],['Andrienko TN',2017],['Cadenas S',2018]],
  [['Hausenloy DJ',2007],['Heusch G',2009],['Sorensson P',2010],['Sanada S',2011],['Lonborg J',2012],['Hausenloy DJ',2013],['Siddiqi N',2014],['Yu DS',2015],['Hu TX',2016]],
  [['Bainey KR',2014],['Binder A',2015],['Xie Y',2016],['Neri M',2017],['Galluzzi L',2018],['Fang XX',2019],['Li WY',2020]]
];
// timeline nodes per cluster: [year position, radius, colour class]
const rowNodes = [
  [[2010,9,'rP'],[2011,5,'rR'],[2013,8,'rT'],[2014,9,'rRg'],[2014.65,5,'Yr'],[2015,11,'GR'],[2015.81,10,'rT'],[2016,10,'rRg'],[2016.58,4,'g'],[2016.71,5,'g'],[2016.82,7,'rG'],[2017,9,'rG'],[2017.74,4,'rR'],[2017.87,6,'rR'],[2018,11,'mRg'],[2018.75,5,'Y'],[2018.83,4,'Y'],[2019,5,'Y']],
  [[2011,4,'rRw'],[2012.66,9,'rB'],[2013,15,'GTr'],[2013.61,8,'mG'],[2014,15,'rT'],[2014.73,15,'mR'],[2014.92,14,'rG'],[2015.08,12,'GR'],[2015.64,8,'rG'],[2015.74,14,'mR'],[2016,14,'YR'],[2016.78,13,'rG'],[2016.87,13,'rR'],[2016.94,13,'rR'],[2017.03,13,'rR'],[2017.6,4,'g'],[2017.75,6,'rG'],[2017.87,6,'rR'],[2018,9,'rGr'],[2018.6,3,'rR'],[2019,12,'Yg'],[2020,4,'Y']],
  [[2007.49,3,'rRw'],[2008,5,'rR'],[2009.5,3,'rRw'],[2010,9,'rB'],[2010.71,4,'rP'],[2010.86,6,'rT'],[2010.94,6,'rR'],[2011.02,5,'rR'],[2011.75,5,'rR'],[2011.8,5,'rR'],[2012,9,'rRg'],[2012.9,3,'rR'],[2012.98,3,'rR'],[2013.65,3,'rR'],[2013.78,6,'rT'],[2014,6,'rG'],[2014.65,7,'mG'],[2014.83,8,'GR'],[2015,10,'mG'],[2015.7,5,'Yr'],[2015.75,6,'Yr'],[2016,10,'rG'],[2016.64,3,'Y'],[2017,9,'rGr'],[2017.5,4,'rR'],[2018,7,'rG']],
  [[2007,3,'P'],[2008,5,'rR'],[2008.85,6,'rP'],[2008.95,8,'rR'],[2009,7,'rP'],[2009.65,5,'rR'],[2009.7,6,'rR'],[2009.74,5,'rR'],[2010,11,'rP'],[2011,5,'rT'],[2011.83,5,'rR'],[2011.95,13,'rB'],[2012.07,10,'rT'],[2012.65,6,'rT'],[2013,12,'rT'],[2014,8,'rG'],[2015,2,'T']],
  [[2014.62,3,'g'],[2015,10,'GT'],[2016,9,'rG'],[2017,5,'Y'],[2017.71,5,'Y'],[2017.78,4,'Y'],[2017.92,6,'Yg'],[2018,7,'rR'],[2019,5,'Y']],
  [[2012.78,7,'rR'],[2012.9,6,'rGr'],[2012.98,6,'T'],[2013.67,4,'rR'],[2014,6,'rT'],[2014.8,3,'Yr'],[2014.86,4,'rR'],[2015,6,'rT'],[2015.72,4,'rR'],[2015.8,4,'rR'],[2016,4,'G'],[2016.88,6,'Yr'],[2017,9,'rG'],[2020,4,'Y']],
  [[2007,3,'P'],[2007.75,5,'rR'],[2008,6,'rR'],[2008.75,5,'rR'],[2008.82,5,'rR'],[2008.87,4,'rR'],[2009,6,'rP'],[2009.47,2,'rR'],[2009.61,5,'rR'],[2010,12,'rP'],[2010.57,3,'rRw'],[2010.94,11,'rB'],[2011.05,8,'rR']],
  [[2011.75,3,'T'],[2012,5,'rR'],[2012.73,5,'rP'],[2013,10,'rB'],[2013.67,6,'rR'],[2014,10,'rT'],[2014.62,4,'rR'],[2014.75,4,'Yg'],[2015,11,'GRT'],[2016,5,'Yg'],[2017,5,'Y'],[2017.77,6,'rG'],[2018,11,'rGr']],
  [[2009,3,'rR'],[2009.7,3,'rR'],[2010,6,'rB'],[2011,9,'rB'],[2011.66,6,'rR'],[2011.74,5,'rR'],[2011.8,5,'rR'],[2012,12,'mB'],[2012.58,7,'rR'],[2012.65,7,'rT'],[2013,22,'H13'],[2014,5,'rR'],[2015,5,'rR'],[2016,3,'g']],
  [[2015,5,'g'],[2016.6,5,'Y'],[2017,8,'Yg'],[2018,5,'Y'],[2019,6,'Y'],[2020,3,'Y']]
];
// arcs along a cluster line, flat [from year, to year, ...]
const rowArcs = [
  [2010,2014,2010,2013,2010,2011,2011,2013,2010,2010.1,2012.6,2013,2013,2014,2012.7,2014,2014,2015,2014,2016,2014,2017,2014.65,2016,2015,2016,2015,2017,2015,2018,2014.7,2017.8,2015.81,2017,2016,2017,2016,2018,2016,2018.8,2016.58,2018,2016.82,2018,2017,2018,2017,2019,2017,2018.6,2017.87,2019,2018,2019,2018,2020,2018.75,2019,2019,2020,2016.7,2018.7,2016.5,2019,2017.6,2019],
  [2010.8,2014.5,2011,2013,2011.8,2013,2012,2013.1,2012.66,2013,2013,2014,2013,2015,2013,2016,2013,2017,2012.7,2015,2013.2,2015.5,2014,2015,2014,2016,2014,2017,2014,2018,2014.7,2016.6,2014.92,2017,2015,2016,2015,2017,2015,2018,2015,2018.6,2015.5,2017.8,2016,2017,2016,2018,2016,2018.6,2016.5,2018.4,2017,2018,2017,2018.6,2017,2019,2018,2019,2018,2020,2019,2020,2018.6,2020,2017.6,2018.6,2018,2018.9],
  [2007.49,2010.86,2008,2010,2009.5,2010.86,2010,2011,2010,2012,2010.5,2012,2011,2012,2011,2012.1,2010.7,2012,2010.86,2012.5,2012,2013,2012,2014,2012,2015,2012.5,2014.5,2013,2015,2013,2016,2013.6,2016,2014,2016,2014,2015,2014.4,2016.5,2015,2016,2015,2017,2015.5,2017,2016.64,2019,2018,2019,2016,2017,2017,2018,2016,2018],
  [2006.55,2009.6,2007,2009.6,2007.6,2008.9,2008,2009,2008,2009.8,2008.85,2010,2009,2011,2009,2012,2009.6,2012,2009.7,2011.9,2009.8,2012,2010,2011,2010,2012,2010.7,2012,2011,2012,2011.8,2014,2012,2013,2012,2014,2012,2015,2012.1,2014,2013,2014,2013,2015,2014,2015,2009.05,2011.4,2008.95,2010.3],
  [2013,2015,2013,2016,2013.6,2015,2014,2016,2014.62,2016,2015,2016,2015,2017,2015,2018,2016,2018,2016,2017.8,2016.5,2018,2017,2018,2017,2019,2017,2020,2017.7,2019,2018,2019,2018,2020,2019,2020,2018.5,2019.5,2019,2019.6,2017.8,2019.2,2014,2015.2],
  [2009,2013,2009,2010,2010,2012,2010,2013,2012,2013,2013,2015,2013,2014,2013,2014.8,2013.2,2015,2014,2015,2014.7,2016,2015,2016,2015,2017,2015.5,2017,2016,2017,2017,2018,2017,2019,2018,2019,2018,2020,2019,2019.7,2019,2020,2016,2016.9],
  [2006.55,2009,2007,2009.6,2006.6,2007.75,2007,2008,2007.75,2009,2007.8,2009.6,2008,2009.6,2008.8,2010,2009,2011,2009,2010.9,2009.6,2010.9,2009.7,2011,2009.65,2011,2010,2011,2010.5,2012,2010.9,2013,2011,2012.4,2011,2012,2011.1,2013,2011.2,2012.8,2009,2009.6,2008.75,2009.6],
  [2009,2011,2009,2012,2010,2012,2010,2013,2011,2013,2011,2013.4,2012,2013,2012,2014,2012.1,2014,2013,2014,2013,2015,2013,2016,2014,2015,2014,2016,2014,2017,2015,2016,2015,2017,2015,2018,2016,2018,2016.5,2017.7,2017,2017.8,2017,2018],
  [2007,2009.7,2008.6,2010,2008.7,2010.1,2009,2011,2009,2011.6,2009.7,2011,2009.7,2012,2010,2011.7,2010,2012,2011,2012,2011.7,2012.6,2012,2013,2012,2014,2012,2013.2,2012.6,2014,2013,2015,2009.1,2011.5],
  [2013.7,2015,2013.8,2015.6,2014,2015,2014.6,2016.6,2015,2016,2015,2017,2015.6,2016.6,2016,2017,2015,2018,2016,2019,2016.5,2020,2016.6,2018,2016.7,2018.5,2017,2018.4,2017,2018,2017.5,2018.4,2018,2019,2018,2019.5,2018.7,2019.6,2019,2019.6,2019,2020,2017.7,2019,2016.6,2018.2]
];
// lines between clusters: [row, year, row, year]
const crossLinks = [
  [3,2009,8,2009],[3,2009,6,2009],[0,2010.05,6,2010.95],[2,2012,6,2010.95],[3,2010,6,2010.95],[3,2010.7,6,2010.95],[3,2011,6,2010.95],[3,2011.3,6,2010.95],[5,2010,6,2010.95],[5,2009.6,6,2009],
  [2,2010.6,6,2010],[3,2010.1,6,2010.2],[1,2011.9,5,2011],[3,2011.9,8,2012],[2,2012.2,8,2012],[1,2012.66,8,2012],[2,2012.9,8,2012],[1,2013,8,2012.05],[3,2013,8,2012.1],[2,2012.95,7,2013.05],
  [3,2009.7,8,2011],[3,2010,8,2011.4],[3,2010.2,8,2012.6],[6,2010.6,8,2012],[6,2011,8,2012.6],[1,2012.7,4,2013.3],[1,2013.1,5,2012.95],[2,2013.8,5,2013],[2,2014,4,2014],[1,2014,5,2014.2],
  [1,2013.2,7,2012.9],[3,2012.65,5,2012.9],[5,2012.8,8,2012.6],[5,2013.1,7,2013.1],[1,2013.6,2,2014],[3,2013,4,2013.4],[4,2013.6,7,2013.9],[4,2014,5,2014.5],
  [2,2015,5,2015],[3,2015,5,2015],[4,2015,7,2015],[1,2015,4,2015],[1,2015,2,2015],[0,2015,2,2015],[0,2016,1,2015.7],[0,2015.8,4,2015.5],[1,2014.9,4,2014.7],[2,2014.7,4,2014.7],[5,2014.8,7,2014.6],[5,2015,7,2015],
  [4,2016,1,2016],[2,2016,4,2016],[2,2016,5,2016.3],[1,2016.2,7,2016.8],[1,2015.8,4,2016.8],[2,2015.4,5,2016.9],[2,2015.2,7,2016.8],[5,2016,7,2016.7],[4,2015.6,7,2016.7],
  [5,2017,2,2016.4],[4,2017,2,2017],[5,2016.9,0,2017],[9,2016.6,1,2016.7],[7,2016.95,4,2016.6],[5,2017.1,7,2017],[2,2016.9,9,2017],[9,2018,4,2018],[4,2018,7,2018],[9,2019,4,2018.4],[9,2020,1,2019.6],[5,2019,1,2018.5],[5,2018,1,2018],[5,2020,1,2019.3],[0,2018,5,2017.95],[0,2017.8,4,2017.9],[1,2019,4,2019]
];

// ---- drawing
const width = 1959, height = 2230;
const svg = d3.select('#chart').append('svg').attr('width', width).attr('height', height);

const layoutX = d3.scaleLinear().domain([0, 1959]).range([0, width]);
const layoutY = d3.scaleLinear().domain([0, 2230]).range([0, height]);
const radius = d3.scaleLinear().domain([0, 30]).range([0, 30]);
const yearColor = d3.scaleLinear()
  .domain([2007, 2009, 2010, 2012, 2014, 2016, 2018, 2020])
  .range(['#5f2f7c', '#5f3a84', '#46729c', '#26988f', '#4fbd78', '#a6d850', '#ece64a', '#f8ee5a'])
  .clamp(true);

const RED = '#f52a2a', TEAL = '#2f9a94', PURPLE = '#4b3c92', BLUE = '#3f6f9a', GREEN = '#7cc96a', YG = '#a8d85a', YEL = '#f5e63c', MAG = '#ff1fe0';
// rings from the outside in: [colour, fraction of radius]
const rings = {
  pY: [['#fbf6b8',1]], pG: [['#d8eed0',1]], pB: [['#d9e6ec',1]], pP: [['#dcd2e4',1]], pW: [['#f3f5ee',1]],
  Y: [[YEL,1]], g: [[YG,1]], G: [[GREEN,1],['#5dbb80',.5]], T: [[TEAL,1],['#3c8fa0',.5]], B: [[BLUE,1],['#5a85ab',.5]], P: [['#7a5a9a',1],['#6a4a90',.5]], D: [['#43307a',1]],
  rR: [[RED,1]], rRg: [[RED,1],['#7cc96a',.7],[RED,.4]], rG: [[RED,1],[GREEN,.66]], rGr: [[RED,1],[GREEN,.72],[RED,.42],[YG,.22]],
  rGc: [[RED,1],[GREEN,.76],[YG,.56],[RED,.34],['#fff',.1]], rT: [[RED,1],[TEAL,.74],['#45a899',.4]], rT2: [[RED,1],[TEAL,.8],['#5fc49a',.58],[RED,.32],['#fff',.12]],
  rB: [[RED,1],[BLUE,.76],['#5a7fb0',.38]], rP: [[RED,1],[PURPLE,.72],['#6a58a8',.36]], rP2: [[RED,1],[PURPLE,.8],['#6a58a8',.55],[PURPLE,.3],[RED,.14]], Pr: [['#fff',1],['#5d3a8a',.85],['#ddd',.3]],
  rRw: [[RED,1],['#ffffff',.22]], Yg: [[YEL,1],['#b8dc52',.6]], Yr: [[YEL,1],[RED,.62]], YR: [[YEL,1],[RED,.72],['#f9552a',.4],[RED,.2]], gr: [[YG,1],[RED,.4]],
  GR: [[YG,1],[RED,.74],[GREEN,.55],[RED,.24]], GT: [[YG,1],['#5fc47a',.84],[TEAL,.58],['#45a899',.3]], GTr: [[YG,1],['#4fc08a',.84],[TEAL,.6],[RED,.26]], GRT: [[YG,1],[RED,.72],[TEAL,.55]],
  GH: [[YG,1],[TEAL,.9],[RED,.56],[PURPLE,.3],[RED,.14]], Tr: [[TEAL,1],[RED,.66]], TP: [[TEAL,1],[PURPLE,.72]],
  mG: [[MAG,1],[GREEN,.84],[TEAL,.42]], mR: [[MAG,1],[RED,.84],[YG,.5],[RED,.24]], mRg: [[MAG,1],[RED,.86],[GREEN,.6],[RED,.3]], mT: [[MAG,1],[YG,.92],[TEAL,.8],[RED,.24]], mB: [[MAG,1],[BLUE,.84],['#3d8d92',.42]],
  H13: [[RED,1],[TEAL,.84],['#45a89a',.6],[RED,.4],[PURPLE,.24]], F14: [[RED,1],['#2f9a94',.8],['#4aa89a',.52],[RED,.22]], I15: [[YG,1],['#7fcf72',.74],[TEAL,.4],[RED,.14]]
};

function drawNode(parent, x, y, r, key, stroke) {
  const g = parent.append('g').attr('transform', `translate(${x},${y})`);
  (rings[key] || rings.pW).forEach(([color, f], i) => {
    g.append('circle').attr('r', r * f).attr('fill', color)
      .attr('stroke', i === 0 ? stroke : 'none')
      .attr('stroke-width', i === 0 ? (stroke === '#000' ? 1.3 : 1) : 0);
  });
}

function arcPath(x1, y1, x2, y2, bend) {
  const mx = (x1 + x2) / 2, my = (y1 + y2) / 2;
  const p = d3.path();
  p.moveTo(x1, y1);
  p.quadraticCurveTo(mx - (y2 - y1) * bend, my + (x2 - x1) * bend, x2, y2);
  return p.toString();
}

// panel A
const linkG = svg.append('g').attr('fill', 'none').attr('stroke-linecap', 'round');
hubLinks.forEach(h => {
  const [yr, hx, hy] = h;
  for (let i = 3, k = 0; i < h.length; i += 2, k++) {
    linkG.append('path')
      .attr('d', arcPath(layoutX(hx), layoutY(hy), layoutX(h[i]), layoutY(h[i + 1]), k % 2 ? .18 : -.18))
      .attr('stroke', yearColor(yr)).attr('stroke-width', 1.5).attr('opacity', .36);
  }
});
linkChains.forEach(c => {
  const [yr, w, bend] = c;
  for (let i = 3; i + 3 < c.length; i += 2) {
    const pts = [layoutX(c[i]), layoutY(c[i + 1]), layoutX(c[i + 2]), layoutY(c[i + 3])];
    (bend === 0 ? [.2, -.2] : [bend]).forEach(b => {
      linkG.append('path').attr('d', arcPath(...pts, b))
        .attr('stroke', yearColor(yr)).attr('stroke-width', w * 1.2 + .3)
        .attr('opacity', .42);
    });
  }
});

const nodeG = svg.append('g');
[...nodesWest, ...nodesCentre, ...nodesNorth, ...nodesEast]
  .sort((a, b) => a[2] - b[2])
  .forEach(d => drawNode(nodeG, layoutX(d[0]), layoutY(d[1]), radius(d[2]), d[3], '#000'));

svg.append('g').selectAll('text').data(panelALabels).join('text')
  .attr('x', (d, i) => layoutX(panelAAnchor[i][0]))
  .attr('y', (d, i) => layoutY(panelAAnchor[i][1]))
  .attr('dy', '.36em')
  .attr('font-size', (d, i) => panelAAnchor[i][2])
  .attr('fill', '#000')
  .attr('stroke', '#fff').attr('stroke-width', 3).attr('paint-order', 'stroke')
  .text(d => d);

svg.append('text').attr('x', 7).attr('y', 33).attr('font-size', 38).attr('fill', '#000').text('A');
svg.append('text').attr('x', 6).attr('y', 1377).attr('font-size', 40).attr('fill', '#000').text('B');

// panel B
const x = d3.scaleLinear().domain([2007, 2020]).range([78, 1457]);
const rowY = d3.scaleLinear().domain([0, 9]).range([1521, 2190]);
const rowLine = ['#8ef98a', '#4cf5a5', '#1fd9b8', '#5560c8', '#e8f542', '#4cf5a5', '#6b3fa8', '#1fd0b0', '#3f7fbf', '#e8f542'];
const rowDots = ['#5ec36f', '#3fb88a', '#3aa88e', '#5560a8', '#c9dc8c', '#3fb88a', '#6b4a98', '#3aa88e', '#4f7fa8', '#c9dc8c'];
const labelInk = ['#1f4f2a', '#0f4a35', '#0f4035', '#1c1c4a', '#4f6010', '#0f4a38', '#1e1040', '#0f4a40', '#122d4a', '#4f6010'];
const clusterInk = ['#4c9a45', '#1e7b5a', '#1f6e5f', '#2b2f66', '#6b9a20', '#1f7d5b', '#2e1a55', '#1a7059', '#1f4068', '#6f9a1f'];

svg.append('g').selectAll('text').data(years).join('text')
  .attr('x', d => x(d) + (d === 2007 ? 13 : d === 2020 ? 14 : 0))
  .attr('y', 1407)
  .attr('text-anchor', 'middle').attr('font-size', 11.5).attr('fill', MAG)
  .text(d => d);

const bArcs = svg.append('g').attr('fill', 'none');
crossLinks.forEach(([r1, y1, r2, y2]) => {
  const early = Math.min(y1, y2);
  const main = y1 === 2009 && y2 === 2009;
  bArcs.append('line')
    .attr('x1', x(y1)).attr('y1', rowY(r1)).attr('x2', x(y2)).attr('y2', rowY(r2))
    .attr('stroke', main ? '#6a4a90' : yearColor(early))
    .attr('stroke-width', main ? 1.8 : .9)
    .attr('opacity', main ? .85 : .45);
});
rowArcs.forEach((flat, r) => {
  for (let i = 0; i < flat.length; i += 2) {
    const x0 = x(flat[i]), x1 = x(flat[i + 1]);
    const rx = (x1 - x0) / 2;
    bArcs.append('path')
      .attr('d', `M${x0},${rowY(r)}A${rx},${rx * .32} 0 0 1 ${x1},${rowY(r)}`)
      .attr('stroke', yearColor(flat[i])).attr('stroke-width', 1.3).attr('opacity', .6);
  }
});

const rows = svg.append('g');
clusterNames.forEach((name, r) => {
  rows.append('line').attr('x1', x(2007)).attr('x2', x(2020)).attr('y1', rowY(r)).attr('y2', rowY(r))
    .attr('stroke', rowDots[r]).attr('stroke-width', 1.5).attr('stroke-dasharray', '2.5 1.5');
  rows.append('line').attr('x1', x(clusterSpan[r][0])).attr('x2', x(clusterSpan[r][1])).attr('y1', rowY(r)).attr('y2', rowY(r))
    .attr('stroke', rowLine[r]).attr('stroke-width', 3.5);
  rowNodes[r].slice().sort((a, b) => a[1] - b[1] || b[0] - a[0])
    .forEach(d => drawNode(rows, x(d[0]), rowY(r), d[1], d[2], '#fff'));
  rows.append('g').selectAll('text').data(rowLabels[r]).join('text')
    .attr('transform', d => `translate(${x(d[1])},${rowY(r) + 21}) rotate(-16)`)
    .attr('text-anchor', 'middle').attr('font-size', 15.5).attr('fill', labelInk[r])
    .attr('stroke', '#fff').attr('stroke-width', 2).attr('paint-order', 'stroke')
    .text(d => `${d[0]} (${d[1]})`);
  rows.append('text').attr('x', 1529).attr('y', rowY(r) - 8).attr('dy', '.36em')
    .attr('font-size', 25).attr('fill', clusterInk[r]).text(name);
});
</script>
</body>
</html>
